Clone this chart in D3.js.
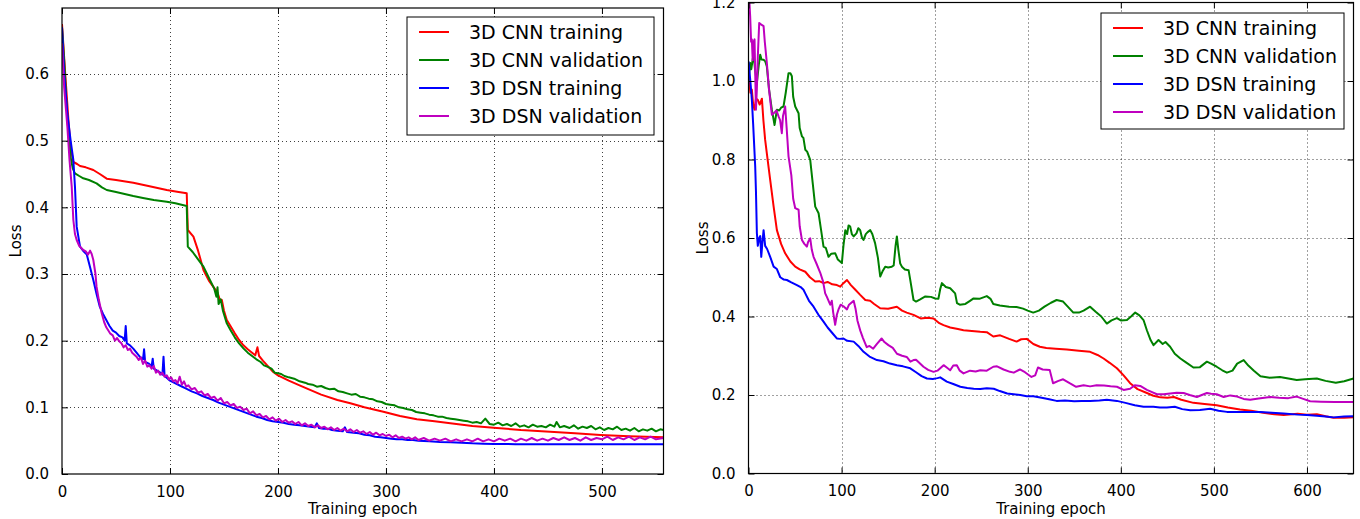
<!DOCTYPE html>
<html><head><meta charset="utf-8">
<script src="https://cdn.jsdelivr.net/npm/d3@7"></script>
<style>
html,body{margin:0;padding:0;background:#fff;}
svg{display:block;font-family:"DejaVu Sans",sans-serif;}
</style></head>
<body>
<svg id="chart" width="1360" height="519"></svg>
<script>
// ---------- DATA ----------
const seriesNames = ["3D CNN training","3D CNN validation","3D DSN training","3D DSN validation"];
const seriesColors = ["#ff0000","#008000","#0000ff","#bf00bf"];

const leftXTicks = [0,100,200,300,400,500];
const leftYTicks = [0,0.1,0.2,0.3,0.4,0.5,0.6];
const rightXTicks = [0,100,200,300,400,500,600];
const rightYTicks = [0,0.2,0.4,0.6,0.8,1.0,1.2];

// Left panel: [epoch, loss]
const leftCnnTrain = [[0,0.675],[3,0.6],[6,0.53],[8,0.49],[10.5,0.468],[14,0.465],[16.7,0.462],[22,0.46],[29,0.456],[35,0.45],[41.4,0.443],[50,0.441],[66,0.437],[80,0.432],[97,0.426],[108,0.423],[115.5,0.421],[116.5,0.366],[121.7,0.356],[126,0.335],[131,0.306],[136,0.29],[140,0.281],[144,0.272],[146,0.262],[148,0.261],[150,0.245],[152.6,0.231],[156,0.222],[160,0.211],[164,0.201],[168,0.193],[172,0.187],[176,0.182],[179,0.178],[181,0.19],[182.5,0.177],[186,0.17],[190,0.163],[195,0.154],[200,0.148],[210,0.14],[220,0.133],[227,0.128],[240,0.119],[255,0.111],[267,0.106],[280,0.1],[297.6,0.0935],[313,0.087],[328.6,0.082],[345,0.079],[359.6,0.076],[380,0.072],[399.7,0.0695],[425,0.066],[452,0.0635],[475,0.061],[498.6,0.0585],[525,0.0565],[557,0.055]];

const leftCnnVal = [[0,0.67],[2,0.62],[4,0.56],[6,0.51],[8,0.475],[10,0.458],[12,0.451],[16,0.447],[19.7,0.4435],[25,0.441],[32,0.436],[37,0.43],[41.4,0.426],[50,0.423],[58,0.42],[66,0.417],[75,0.414],[85,0.411],[97,0.4085],[105,0.406],[115.5,0.402],[116.5,0.341],[121,0.333],[126,0.322],[131,0.311],[137,0.291],[141,0.278],[143,0.266],[144,0.28],[145,0.255],[147,0.262],[149,0.245],[152.6,0.226],[156,0.216],[160,0.205],[164,0.196],[168,0.1885],[172,0.182],[176,0.177],[180,0.172],[184,0.168],[187,0.163],[190,0.161],[194,0.158],[197,0.152],[200,0.151],[203,0.15],[206,0.147],[210,0.145],[215,0.143],[220,0.139],[225,0.137],[228,0.135],[232,0.134],[236,0.131],[240,0.132],[244,0.129],[248,0.127],[252,0.128],[256,0.124],[260,0.123],[264,0.121],[268,0.119],[272,0.12],[276,0.116],[280,0.115],[284,0.113],[288,0.112],[292,0.109],[296,0.108],[300,0.105],[304,0.104],[308,0.103],[312,0.1],[316,0.099],[320,0.097],[324,0.096],[328,0.093],[332,0.092],[336,0.091],[340,0.089],[344,0.088],[348,0.086],[352,0.086],[356,0.084],[360,0.083],[364,0.082],[368,0.081],[372,0.08],[376,0.079],[380,0.077],[384,0.078],[388,0.076],[392,0.083],[396,0.075],[400,0.074],[404,0.077],[408,0.073],[412,0.075],[416,0.072],[420,0.076],[424,0.071],[428,0.073],[432,0.07],[436,0.074],[440,0.071],[444,0.072],[448,0.07],[452,0.074],[456,0.071],[458,0.078],[461,0.07],[465,0.072],[470,0.069],[474,0.073],[478,0.068],[482,0.071],[486,0.069],[490,0.072],[494,0.067],[498,0.07],[502,0.066],[506,0.069],[510,0.067],[514,0.071],[518,0.066],[522,0.068],[526,0.065],[530,0.069],[534,0.064],[538,0.067],[542,0.065],[546,0.068],[550,0.064],[554,0.067],[557,0.066]];

const leftDsnTrain = [[0,0.67],[2,0.6],[5,0.54],[8,0.5],[10.5,0.471],[12,0.431],[13.6,0.371],[16.7,0.341],[20,0.334],[23,0.329],[26,0.31],[29,0.291],[32,0.27],[35,0.251],[38,0.24],[41,0.231],[44,0.222],[47,0.215],[50,0.212],[53,0.207],[56,0.205],[58,0.2],[59,0.222],[60,0.196],[63,0.193],[66,0.188],[69,0.182],[72,0.176],[75,0.172],[76,0.187],[77,0.168],[80,0.166],[83,0.162],[84,0.173],[85,0.158],[88,0.155],[91,0.152],[93,0.149],[94,0.176],[95,0.147],[98,0.143],[100,0.14],[105,0.136],[110,0.132],[115,0.128],[120,0.124],[125,0.121],[130,0.117],[135,0.114],[140,0.111],[145,0.107],[150,0.104],[155,0.101],[160,0.098],[165,0.095],[170,0.092],[175,0.089],[180,0.086],[185,0.084],[190,0.081],[195,0.079],[200,0.078],[205,0.077],[210,0.075],[215,0.074],[220,0.073],[225,0.072],[230,0.071],[234,0.07],[236,0.076],[238,0.069],[242,0.068],[246,0.068],[250,0.066],[255,0.065],[260,0.064],[262,0.07],[264,0.063],[270,0.062],[275,0.061],[280,0.059],[285,0.058],[290,0.056],[295,0.055],[300,0.054],[305,0.053],[310,0.052],[315,0.052],[320,0.051],[325,0.051],[330,0.05],[340,0.049],[350,0.048],[360,0.0475],[370,0.047],[380,0.046],[390,0.0455],[400,0.045],[420,0.0448],[440,0.0447],[460,0.0446],[480,0.0445],[500,0.0445],[520,0.0445],[540,0.0445],[557,0.0445]];

const leftDsnVal = [[0,0.646],[2,0.58],[5,0.52],[7,0.47],[9,0.431],[10.5,0.381],[12,0.36],[13.6,0.351],[16,0.342],[19.7,0.336],[22,0.334],[24,0.329],[26,0.335],[27.5,0.33],[29,0.321],[31,0.3],[32,0.281],[34,0.262],[36.8,0.241],[39,0.228],[41,0.22],[44.5,0.211],[47,0.208],[49,0.2],[51,0.204],[53,0.199],[55,0.196],[57,0.19],[59,0.193],[61,0.186],[63,0.188],[65,0.182],[67,0.179],[69,0.176],[71,0.171],[73,0.175],[75,0.165],[77,0.17],[79,0.161],[81,0.163],[83,0.158],[85,0.162],[87,0.152],[89,0.155],[91,0.149],[93,0.152],[95,0.146],[97,0.148],[99,0.142],[101,0.145],[103,0.139],[105,0.141],[107,0.136],[109,0.146],[111,0.134],[113,0.139],[115,0.131],[117,0.133],[120,0.127],[123,0.129],[126,0.122],[129,0.124],[132,0.118],[135,0.12],[138,0.114],[141,0.116],[144,0.11],[147,0.114],[150,0.106],[153,0.108],[156,0.103],[159,0.105],[162,0.099],[165,0.101],[168,0.096],[171,0.098],[174,0.091],[177,0.094],[180,0.088],[183,0.09],[186,0.085],[189,0.087],[192,0.082],[195,0.085],[198,0.08],[201,0.083],[204,0.078],[207,0.081],[210,0.077],[213,0.079],[216,0.075],[219,0.078],[222,0.073],[225,0.076],[228,0.072],[231,0.074],[234,0.07],[237,0.073],[240,0.069],[243,0.071],[246,0.067],[249,0.07],[252,0.066],[255,0.069],[258,0.065],[261,0.068],[264,0.064],[267,0.067],[270,0.063],[273,0.066],[276,0.062],[279,0.064],[282,0.06],[285,0.063],[288,0.059],[291,0.062],[294,0.058],[297,0.06],[300,0.057],[303,0.059],[306,0.055],[309,0.058],[312,0.054],[315,0.056],[318,0.053],[321,0.055],[324,0.052],[327,0.055],[330,0.051],[335,0.054],[340,0.05],[345,0.053],[350,0.05],[355,0.053],[360,0.049],[365,0.052],[370,0.049],[375,0.052],[380,0.049],[385,0.053],[390,0.049],[395,0.052],[400,0.049],[405,0.053],[410,0.05],[415,0.053],[420,0.049],[425,0.053],[430,0.05],[435,0.054],[440,0.05],[445,0.053],[450,0.05],[455,0.054],[460,0.051],[465,0.055],[470,0.051],[475,0.054],[480,0.05],[485,0.055],[490,0.051],[495,0.054],[500,0.052],[505,0.056],[510,0.051],[515,0.055],[520,0.052],[525,0.056],[530,0.051],[535,0.055],[540,0.052],[545,0.056],[550,0.052],[557,0.054]];

// Right panel: [epoch, loss]
const rightCnnTrain = [[0,1.02],[2,0.97],[3.6,0.978],[5,0.94],[6.5,0.927],[8,0.955],[10,0.952],[12,0.94],[14.4,0.955],[16,0.9],[17.9,0.85],[20,0.81],[23.3,0.748],[27,0.68],[30.5,0.62],[35,0.585],[39.4,0.561],[45,0.54],[50.2,0.527],[55,0.52],[61,0.514],[66,0.5],[71.7,0.489],[76,0.49],[80.6,0.485],[85,0.488],[90,0.482],[95,0.48],[98.6,0.476],[102,0.485],[105.8,0.493],[110,0.48],[114.8,0.468],[120,0.455],[125.5,0.442],[130.7,0.44],[135,0.432],[141.5,0.421],[150,0.42],[159.4,0.425],[165,0.415],[170,0.41],[177.3,0.404],[185,0.395],[192,0.397],[198.8,0.395],[205,0.383],[209.5,0.378],[216.7,0.372],[225,0.368],[231,0.365],[240,0.363],[249,0.361],[256,0.36],[263,0.349],[270.4,0.352],[280,0.343],[288,0.336],[293,0.342],[299,0.343],[306,0.33],[313,0.323],[320,0.32],[330,0.318],[342,0.316],[355,0.313],[367,0.31],[375,0.302],[381.5,0.293],[388,0.282],[395.8,0.268],[403,0.25],[410,0.23],[418,0.215],[428,0.205],[435,0.198],[442.5,0.194],[450,0.193],[457,0.195],[465,0.188],[478,0.18],[490,0.177],[503,0.174],[515,0.168],[528,0.163],[540,0.16],[553,0.155],[565,0.151],[575,0.149],[590,0.152],[600,0.15],[610.6,0.151],[620,0.146],[628.5,0.142],[640,0.142],[650,0.143]];

const rightCnnVal = [[0,1.0],[1.8,1.046],[3,1.03],[5.4,1.07],[7,1.03],[9,0.995],[11,1.04],[12.6,1.067],[14,1.055],[16.2,1.054],[18,1.05],[19.7,1.037],[22,0.98],[25.1,0.927],[28,0.888],[30.5,0.927],[33,0.925],[35,0.932],[37.6,0.935],[40,0.97],[43,1.02],[45,1.02],[46.6,1.012],[48,0.96],[50.2,0.935],[53.8,0.918],[55,0.88],[57.4,0.859],[59,0.855],[61,0.825],[63,0.82],[66.3,0.799],[69,0.74],[71.7,0.68],[75.3,0.663],[78,0.62],[80.6,0.578],[83,0.575],[86,0.552],[89,0.56],[93.2,0.561],[96,0.545],[100.3,0.536],[102,0.58],[104,0.62],[106,0.61],[107.5,0.632],[109.3,0.629],[111,0.61],[113,0.604],[116,0.612],[118,0.625],[120,0.62],[122,0.6],[123.6,0.595],[126,0.61],[128,0.615],[130.8,0.62],[133,0.61],[136,0.587],[139,0.55],[141.5,0.502],[144,0.515],[146.9,0.527],[150,0.525],[154,0.527],[156,0.53],[158,0.58],[159.4,0.604],[161,0.57],[163,0.535],[164.8,0.527],[168,0.52],[172,0.518],[174,0.49],[177.3,0.442],[180,0.438],[184,0.443],[190,0.451],[196,0.45],[200.6,0.446],[204,0.445],[206,0.47],[207.8,0.485],[212,0.475],[216.7,0.472],[222,0.459],[224,0.434],[227,0.43],[233,0.432],[238,0.44],[241.8,0.446],[248,0.445],[256,0.452],[260,0.445],[263,0.432],[270,0.428],[280,0.425],[288,0.424],[295,0.42],[300,0.415],[305.9,0.41],[312,0.415],[318,0.425],[325,0.435],[331,0.442],[338,0.438],[343,0.425],[349,0.41],[355,0.41],[360,0.415],[367,0.425],[373,0.412],[379,0.4],[385,0.382],[390,0.39],[395.8,0.396],[400,0.39],[406.6,0.391],[411,0.4],[415.5,0.41],[420,0.403],[424.4,0.391],[428,0.365],[432,0.34],[435.2,0.327],[440.5,0.34],[445,0.33],[448,0.335],[453,0.323],[458,0.305],[464,0.293],[470,0.283],[478,0.27],[485,0.271],[492.5,0.285],[497,0.28],[503,0.272],[509,0.263],[514,0.257],[520,0.262],[525,0.28],[532,0.289],[537,0.275],[543,0.262],[550,0.248],[560,0.244],[571,0.246],[580,0.242],[589,0.238],[598,0.24],[610.6,0.242],[620,0.236],[631,0.231],[640,0.235],[650,0.242]];

const rightDsnTrain = [[0,1.05],[2,1.0],[3.6,0.952],[5,0.89],[7.2,0.782],[8,0.72],[9,0.612],[10,0.58],[11.5,0.6],[12.6,0.605],[13.7,0.552],[15,0.59],[16.2,0.62],[17.9,0.58],[20,0.572],[23.3,0.552],[27,0.527],[30.5,0.521],[34.1,0.5],[38,0.494],[41.2,0.493],[46,0.487],[52,0.48],[56,0.475],[59.1,0.468],[61,0.459],[65,0.44],[69.9,0.425],[75,0.405],[80.6,0.387],[85,0.372],[90,0.358],[94.9,0.344],[98,0.343],[102,0.344],[106,0.338],[113,0.336],[118,0.325],[123.6,0.31],[130,0.298],[138,0.289],[145,0.286],[152,0.28],[159.5,0.276],[166,0.273],[173.8,0.268],[180,0.258],[186,0.248],[191.7,0.242],[198,0.241],[203,0.243],[206,0.245],[213,0.234],[220,0.228],[227.6,0.221],[235,0.218],[242,0.216],[249,0.215],[256,0.217],[263.5,0.216],[270,0.21],[278,0.204],[285,0.202],[292,0.2],[299,0.197],[306,0.197],[315,0.193],[323,0.189],[331,0.185],[340,0.186],[350,0.184],[358,0.185],[367,0.185],[377,0.186],[385,0.188],[395.8,0.185],[405,0.18],[415,0.174],[424.4,0.17],[435,0.17],[442,0.168],[449.5,0.168],[458,0.17],[466,0.164],[474.6,0.161],[485,0.162],[496,0.165],[505,0.16],[514,0.157],[525,0.157],[539,0.157],[550,0.157],[562,0.155],[575,0.153],[590,0.15],[600,0.149],[610.6,0.147],[620,0.145],[628.5,0.143],[640,0.145],[650,0.146]];

const rightDsnVal = [[0,1.25],[1,1.2],[1.8,1.165],[2.8,1.1],[3.6,1.106],[4.5,1.053],[5.5,1.1],[6.5,1.106],[8,0.927],[9,0.98],[10,1.062],[11.5,1.148],[13,1.145],[16.2,1.14],[17.5,1.1],[19.7,1.046],[22,0.98],[25.1,0.914],[28,0.92],[30,0.925],[32.3,0.91],[34,0.9],[35.8,0.867],[37,0.91],[39.4,0.935],[41,0.88],[43,0.808],[46,0.76],[48,0.7],[50.2,0.676],[53.8,0.672],[55,0.63],[57.4,0.595],[60,0.585],[62.7,0.578],[64,0.59],[66.3,0.599],[68,0.57],[69.9,0.552],[73,0.535],[77,0.512],[80,0.49],[82.4,0.459],[84.2,0.45],[87.8,0.43],[89.5,0.44],[91,0.41],[93.1,0.379],[95,0.405],[96.7,0.418],[99,0.43],[102,0.426],[105.8,0.418],[108,0.43],[113,0.44],[115,0.42],[117,0.39],[120.1,0.364],[123,0.345],[127,0.322],[130,0.325],[134,0.318],[138,0.33],[143,0.344],[146,0.335],[150.3,0.327],[155,0.32],[159.5,0.305],[165,0.3],[170,0.297],[174,0.285],[177.3,0.289],[180,0.29],[188,0.272],[193,0.264],[198.8,0.259],[203,0.262],[209.6,0.276],[213,0.27],[216.7,0.263],[220,0.275],[223.8,0.276],[227,0.262],[231,0.255],[238,0.262],[244,0.26],[249,0.263],[256,0.262],[263,0.272],[267,0.273],[274,0.265],[281,0.259],[285,0.257],[291.6,0.265],[297,0.258],[304,0.246],[308,0.25],[311,0.27],[316,0.265],[323.6,0.264],[327.2,0.23],[333,0.236],[338,0.24],[345,0.23],[352,0.221],[360,0.225],[367,0.222],[374,0.225],[382,0.224],[389,0.222],[395.8,0.221],[403,0.213],[410,0.216],[415,0.225],[420.9,0.223],[428,0.213],[433,0.208],[438.8,0.202],[446,0.202],[453,0.204],[460,0.206],[467.5,0.205],[474,0.2],[481.7,0.195],[487,0.2],[492.5,0.205],[497,0.203],[503,0.202],[510.5,0.195],[517.6,0.199],[525,0.196],[532,0.19],[539,0.188],[548,0.191],[560.5,0.195],[570,0.193],[580,0.192],[589,0.196],[596,0.19],[603.4,0.184],[615,0.183],[630,0.182],[650,0.182]];

// ---------- DRAW ----------
const svg = d3.select("#chart");

function panel(cfg){
  const g = svg.append("g");
  const x = d3.scaleLinear().domain(cfg.xDomain).range([cfg.left, cfg.right]);
  const y = d3.scaleLinear().domain(cfg.yDomain).range([cfg.bottom, cfg.top]);
  const clipId = "clip" + cfg.id;
  svg.append("defs").append("clipPath").attr("id", clipId)
    .append("rect").attr("x", cfg.left).attr("y", cfg.top)
    .attr("width", cfg.right - cfg.left).attr("height", cfg.bottom - cfg.top);

  // grid
  const grid = g.append("g").attr("stroke", "#000").attr("stroke-width", 1)
    .attr("stroke-dasharray", "1,3").attr("stroke-opacity", 0.75);
  cfg.xTicks.filter(t => t > cfg.xDomain[0]).forEach(t => {
    grid.append("line").attr("x1", Math.round(x(t)) + 0.5).attr("x2", Math.round(x(t)) + 0.5)
      .attr("y1", cfg.top).attr("y2", cfg.bottom);
  });
  cfg.yTicks.filter(t => t > cfg.yDomain[0] && t < cfg.yDomain[1]).forEach(t => {
    grid.append("line").attr("y1", Math.round(y(t)) + 0.5).attr("y2", Math.round(y(t)) + 0.5)
      .attr("x1", cfg.left).attr("x2", cfg.right);
  });

  // lines
  const line = d3.line().x(d => x(d[0])).y(d => y(d[1]));
  const lg = g.append("g").attr("clip-path", `url(#${clipId})`);
  cfg.series.forEach((s, i) => {
    lg.append("path").datum(s).attr("d", line).attr("fill", "none")
      .attr("stroke", seriesColors[i]).attr("stroke-width", 2)
      .attr("stroke-linejoin", "round");
  });

  // axes (ticks inward) on all sides
  const tl = 6, fs = 15;
  const axB = d3.axisBottom(x).tickValues(cfg.xTicks).tickSizeInner(-tl).tickSizeOuter(0).tickPadding(tl + 6)
    .tickFormat(d3.format("d"));
  const axT = d3.axisTop(x).tickValues(cfg.xTicks).tickSizeInner(-tl).tickSizeOuter(0).tickFormat("");
  const axL = d3.axisLeft(y).tickValues(cfg.yTicks).tickSizeInner(-tl).tickSizeOuter(0).tickPadding(tl + 7)
    .tickFormat(d3.format(".1f"));
  const axR = d3.axisRight(y).tickValues(cfg.yTicks).tickSizeInner(-tl).tickSizeOuter(0).tickFormat("");
  [[axB, `translate(0,${cfg.bottom})`],[axT, `translate(0,${cfg.top})`],
   [axL, `translate(${cfg.left},0)`],[axR, `translate(${cfg.right},0)`]].forEach(([ax, tr]) => {
    const a = g.append("g").attr("transform", tr).call(ax);
    a.select(".domain").remove();
    a.selectAll(".tick line").attr("stroke", "#000").attr("stroke-width", 1);
    a.selectAll(".tick text").attr("font-size", fs).attr("fill", "#000")
      .attr("font-family", "DejaVu Sans, sans-serif");
  });
  // frame
  g.append("rect").attr("x", cfg.left).attr("y", cfg.top)
    .attr("width", cfg.right - cfg.left).attr("height", cfg.bottom - cfg.top)
    .attr("fill", "none").attr("stroke", "#000").attr("stroke-width", 1.2);

  // labels
  g.append("text").attr("x", (cfg.left + cfg.right) / 2).attr("y", cfg.bottom + 40)
    .attr("text-anchor", "middle").attr("font-size", 15).text("Training epoch");
  g.append("text").attr("transform", `translate(${cfg.yLabelX},${(cfg.top + cfg.bottom) / 2}) rotate(-90)`)
    .attr("text-anchor", "middle").attr("font-size", 15).text("Loss");

  // legend
  const L = cfg.legend;
  const lgd = g.append("g");
  lgd.append("rect").attr("x", L.x).attr("y", L.y).attr("width", L.w).attr("height", L.h)
    .attr("fill", "#fff").attr("stroke", "#000").attr("stroke-width", 1);
  seriesNames.forEach((n, i) => {
    const cy = L.y + 15 + i * 28;
    lgd.append("line").attr("x1", L.x + 12).attr("x2", L.x + 42).attr("y1", cy).attr("y2", cy)
      .attr("stroke", seriesColors[i]).attr("stroke-width", 2);
    lgd.append("text").attr("x", L.x + 62).attr("y", cy).attr("dy", "0.35em")
      .attr("font-size", 19).text(n);
  });
}

panel({
  id: "L", left: 62, right: 663.5, top: 8, bottom: 474,
  xDomain: [0, 557], yDomain: [0, 0.699],
  xTicks: leftXTicks, yTicks: leftYTicks, yLabelX: 21,
  series: [leftCnnTrain, leftCnnVal, leftDsnTrain, leftDsnVal],
  legend: {x: 407, y: 17, w: 247, h: 118}
});
panel({
  id: "R", left: 748.5, right: 1353.5, top: 2.5, bottom: 473.5,
  xDomain: [0, 650], yDomain: [0, 1.2],
  xTicks: rightXTicks, yTicks: rightYTicks, yLabelX: 708,
  series: [rightCnnTrain, rightCnnVal, rightDsnTrain, rightDsnVal],
  legend: {x: 1101, y: 13, w: 243, h: 116}
});
</script>
</body></html>
